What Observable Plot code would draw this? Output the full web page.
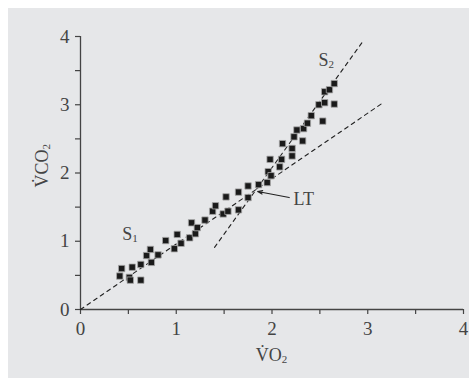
<!DOCTYPE html>
<html><head><meta charset="utf-8">
<script src="https://cdn.jsdelivr.net/npm/d3@7"></script>
<script src="https://cdn.jsdelivr.net/npm/@observablehq/plot@0.6"></script>
<style>
html,body{margin:0;padding:0;background:#fff;}
#wrap{position:relative;width:469px;height:379px;overflow:hidden;}
#bg{position:absolute;left:8px;top:8px;width:461px;height:370px;background:#e6e7e9;}
#chart{position:absolute;left:0;top:0;}
</style></head><body><div id="wrap"><div id="bg"></div><div id="chart"></div></div>
<script>
// Data
const vo2  = [0.41,0.43,0.51,0.52,0.54,0.63,0.63,0.69,0.73,0.74,0.81,0.89,0.98,1.01,1.05,1.14,1.16,1.20,1.22,1.30,1.38,1.41,1.49,1.52,1.54,1.65,1.65,1.75,1.75,1.86,1.95,1.96,1.98,1.99,2.08,2.10,2.11,2.21,2.21,2.23,2.26,2.32,2.33,2.37,2.41,2.49,2.53,2.55,2.55,2.60,2.65,2.65];
const vco2 = [0.49,0.60,0.47,0.43,0.62,0.43,0.66,0.79,0.88,0.69,0.80,1.01,0.89,1.10,0.97,1.05,1.27,1.11,1.20,1.31,1.44,1.52,1.40,1.65,1.44,1.46,1.72,1.64,1.81,1.83,1.86,2.02,2.20,1.96,2.09,2.20,2.43,2.25,2.36,2.53,2.63,2.47,2.65,2.73,2.84,3.00,2.76,3.03,3.19,3.22,3.31,3.01];
const xTicks = [0,0.5,1,1.5,2,2.5,3,3.5,4];
const yTicks = [0,0.5,1,1.5,2,2.5,3,3.5,4];
const s1LineX = [0, 3.15], s1LineY = [0, 3.02];
const s2LineX = [1.40, 2.94], s2LineY = [0.91, 3.91];
const arrowFrom = [2.18, 1.64], arrowTo = [1.85, 1.73];
const ltLabel = {x: 2.225, y: 1.61, text: "LT"};
const s1Label = {x: 0.44, y: 1.07};
const s2Label = {x: 2.49, y: 3.62};

const pts = vo2.map((x, i) => ({x, y: vco2[i]}));
const seg1 = s1LineX.map((x, i) => ({x, y: s1LineY[i]}));
const seg2 = s2LineX.map((x, i) => ({x, y: s2LineY[i]}));

const ink = "#444";
const font = "'Liberation Serif', 'DejaVu Serif', serif";

const chart = Plot.plot({
  width: 469, height: 379,
  marginLeft: 80, marginRight: 6, marginTop: 36, marginBottom: 70,
  style: {background: "transparent", fontFamily: font, fontSize: "19px", color: ink},
  x: {domain: [0, 4]},
  y: {domain: [0, 4]},
  marks: [
    Plot.axisX({ticks: xTicks, tickFormat: d => Number.isInteger(d) ? d : "", tickSize: 5, tickPadding: 7, label: null, stroke: "#444", strokeWidth: 1.2, fontSize: 19, fill: ink}),
    Plot.axisY({ticks: yTicks, tickFormat: d => Number.isInteger(d) ? d : "", tickSize: 5, tickPadding: 6, label: null, stroke: "#444", strokeWidth: 1.2, fontSize: 19, fill: ink}),
    Plot.ruleY([0], {stroke: "#444", strokeWidth: 1.3}),
    Plot.ruleX([0], {stroke: "#444", strokeWidth: 1.3}),
    Plot.line(seg1, {x: "x", y: "y", stroke: "#222", strokeWidth: 1.1, strokeDasharray: "4,4"}),
    Plot.line(seg2, {x: "x", y: "y", stroke: "#222", strokeWidth: 1.1, strokeDasharray: "4,4"}),
    Plot.dot(pts, {x: "x", y: "y", symbol: "square", r: 3.6, fill: "#1a1a1a", stroke: "#a8a8a8", strokeWidth: 0.8}),
    Plot.arrow([{x1: arrowFrom[0], y1: arrowFrom[1], x2: arrowTo[0], y2: arrowTo[1]}], {x1: "x1", y1: "y1", x2: "x2", y2: "y2", stroke: "#222", strokeWidth: 1.1, headLength: 7, headAngle: 40}),
    Plot.text([ltLabel], {x: "x", y: "y", text: "text", textAnchor: "start", fontSize: 18, fill: ink})
  ]
});
document.getElementById("chart").appendChild(chart);

const xs = chart.scale("x"), ys = chart.scale("y");
const svg = d3.select(chart);
function sub(g, x, y, main, subTxt, anchor, rotate, size) {
  const t = g.append("text")
    .attr("x", x).attr("y", y)
    .attr("text-anchor", anchor)
    .attr("dominant-baseline", "middle")
    .attr("fill", ink).attr("font-family", font).attr("font-size", size);
  if (rotate) t.attr("transform", `rotate(-90 ${x} ${y})`);
  t.append("tspan").text(main);
  t.append("tspan").attr("font-size", Math.round(size * 0.62)).attr("dy", 3).text(subTxt);
  return t;
}
const g = svg.append("g");
// axis titles
sub(g, xs.apply(2.0), ys.apply(0) + 48, "V\u0307O", "2", "middle", false, 18);
sub(g, 44, ys.apply(2.1), "V\u0307CO", "2", "middle", true, 18);
// segment labels
sub(g, xs.apply(s1Label.x), ys.apply(s1Label.y), "S", "1", "start", false, 18);
sub(g, xs.apply(s2Label.x), ys.apply(s2Label.y), "S", "2", "start", false, 18);
</script></body></html>
